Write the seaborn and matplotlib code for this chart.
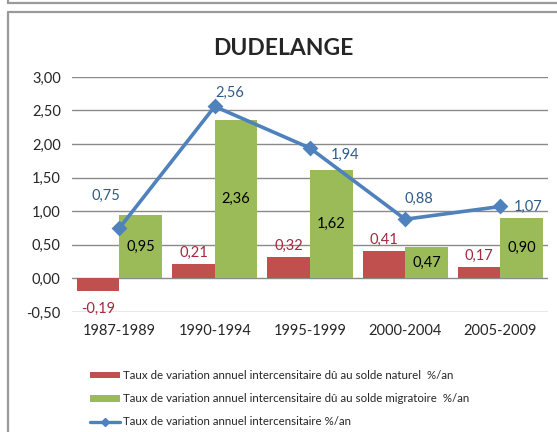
import matplotlib
matplotlib.use("Agg")
import matplotlib.pyplot as plt
import seaborn as sns
import pandas as pd
from matplotlib.patches import Patch
from matplotlib.lines import Line2D

# données
periodes = ["1987-1989", "1990-1994", "1995-1999", "2000-2004", "2005-2009"]
solde_naturel = [-0.19, 0.21, 0.32, 0.41, 0.17]
solde_migratoire = [0.95, 2.36, 1.62, 0.47, 0.90]
taux_total = [0.75, 2.56, 1.94, 0.88, 1.07]

lbl_nat = "Taux de variation annuel intercensitaire dû au solde naturel  %/an"
lbl_mig = "Taux de variation annuel intercensitaire dû au solde migratoire  %/an"
lbl_tot = "Taux de variation annuel intercensitaire %/an"

c_red = "#C0504D"
c_green = "#9BBB59"
c_blue = "#4F81BD"

sns.set_style("white")
plt.rcParams["font.family"] = ["Lato", "DejaVu Sans"]

df = pd.DataFrame({
    "periode": periodes * 2,
    "valeur": solde_naturel + solde_migratoire,
    "serie": [lbl_nat] * 5 + [lbl_mig] * 5,
})

fig = plt.figure(figsize=(5.57, 4.32), dpi=100)
ax = fig.add_axes([0.129, 0.278, 0.855, 0.544])

sns.barplot(data=df, x="periode", y="valeur", hue="serie", palette=[c_red, c_green],
            width=0.894, gap=0, saturation=1, ax=ax, legend=False,
            edgecolor="none", linewidth=0, zorder=3)
sns.pointplot(x=periodes, y=taux_total, color=c_blue, markers="D", markersize=6,
              linewidth=2.6, ax=ax, zorder=5)

ax.set_ylim(-0.5, 3.0)
ax.set_xlim(-0.5, 4.5)
ax.set_yticks([-0.5, 0, 0.5, 1.0, 1.5, 2.0, 2.5, 3.0])
ax.set_yticklabels([f"{v:.2f}".replace(".", ",") for v in ax.get_yticks()], fontsize=10.5)
ax.tick_params(axis="x", labelsize=10.5, pad=9, length=0)
ax.tick_params(axis="y", length=0, pad=8)
ax.grid(axis="y", color="#8A8A8A", linewidth=1.0, zorder=0)
ax.set_axisbelow(True)
for s in ax.spines.values():
    s.set_visible(False)
ax.set_xlabel("")
ax.set_ylabel("")

fmt = lambda v: f"{v:.2f}".replace(".", ",")

# étiquettes solde naturel
for i, v in enumerate(solde_naturel):
    off = 3 if v >= 0 else -8
    ax.annotate(fmt(v), (i - 0.2235, v), xytext=(0, off), textcoords="offset points",
                ha="center", va="bottom" if v >= 0 else "top", color="#A5283F", fontsize=10.5)

# étiquettes solde migratoire (dans la barre)
for i, v in enumerate(solde_migratoire):
    ax.text(i + 0.2235, v / 2, fmt(v), ha="center", va="center", color="black", fontsize=10.5)

# étiquettes taux total
offsets = [(-10, 23), (11, 10), (25, -5), (10, 15), (20, 0)]
for i, v in enumerate(taux_total):
    ax.annotate(fmt(v), (i, v), xytext=offsets[i], textcoords="offset points",
                ha="center", va="center", color="#2E5C8A", fontsize=10.5)

fig.text(0.508, 0.888, "DUDELANGE", ha="center", va="center", fontsize=16.5, fontweight="bold")

handles = [
    Patch(facecolor=c_red, edgecolor="none", label=lbl_nat),
    Patch(facecolor=c_green, edgecolor="none", label=lbl_mig),
    Line2D([0], [0], color=c_blue, marker="D", markersize=4, linewidth=2.4, label=lbl_tot),
]
fig.legend(handles=handles, loc="upper left", bbox_to_anchor=(0.1616, 0.143), frameon=False,
           fontsize=8.3, handlelength=2.6, handleheight=0.5, handletextpad=0.25,
           labelspacing=1.05, borderpad=0, borderaxespad=0)

# cadres
fx = 8 / 557
fig.add_artist(Line2D([fx, fx], [0, 1 - 12 / 432], color="#9A9A9A", linewidth=1.6, transform=fig.transFigure))
fig.add_artist(Line2D([fx, 1], [1 - 12 / 432, 1 - 12 / 432], color="#9A9A9A", linewidth=1.6, transform=fig.transFigure))
fig.add_artist(Line2D([fx, 1], [1 - 3 / 432, 1 - 3 / 432], color="#9A9A9A", linewidth=1.6, transform=fig.transFigure))
fig.add_artist(Line2D([fx, fx], [1 - 3 / 432, 1], color="#9A9A9A", linewidth=1.6, transform=fig.transFigure))

fig.savefig("out.png", dpi=100)
